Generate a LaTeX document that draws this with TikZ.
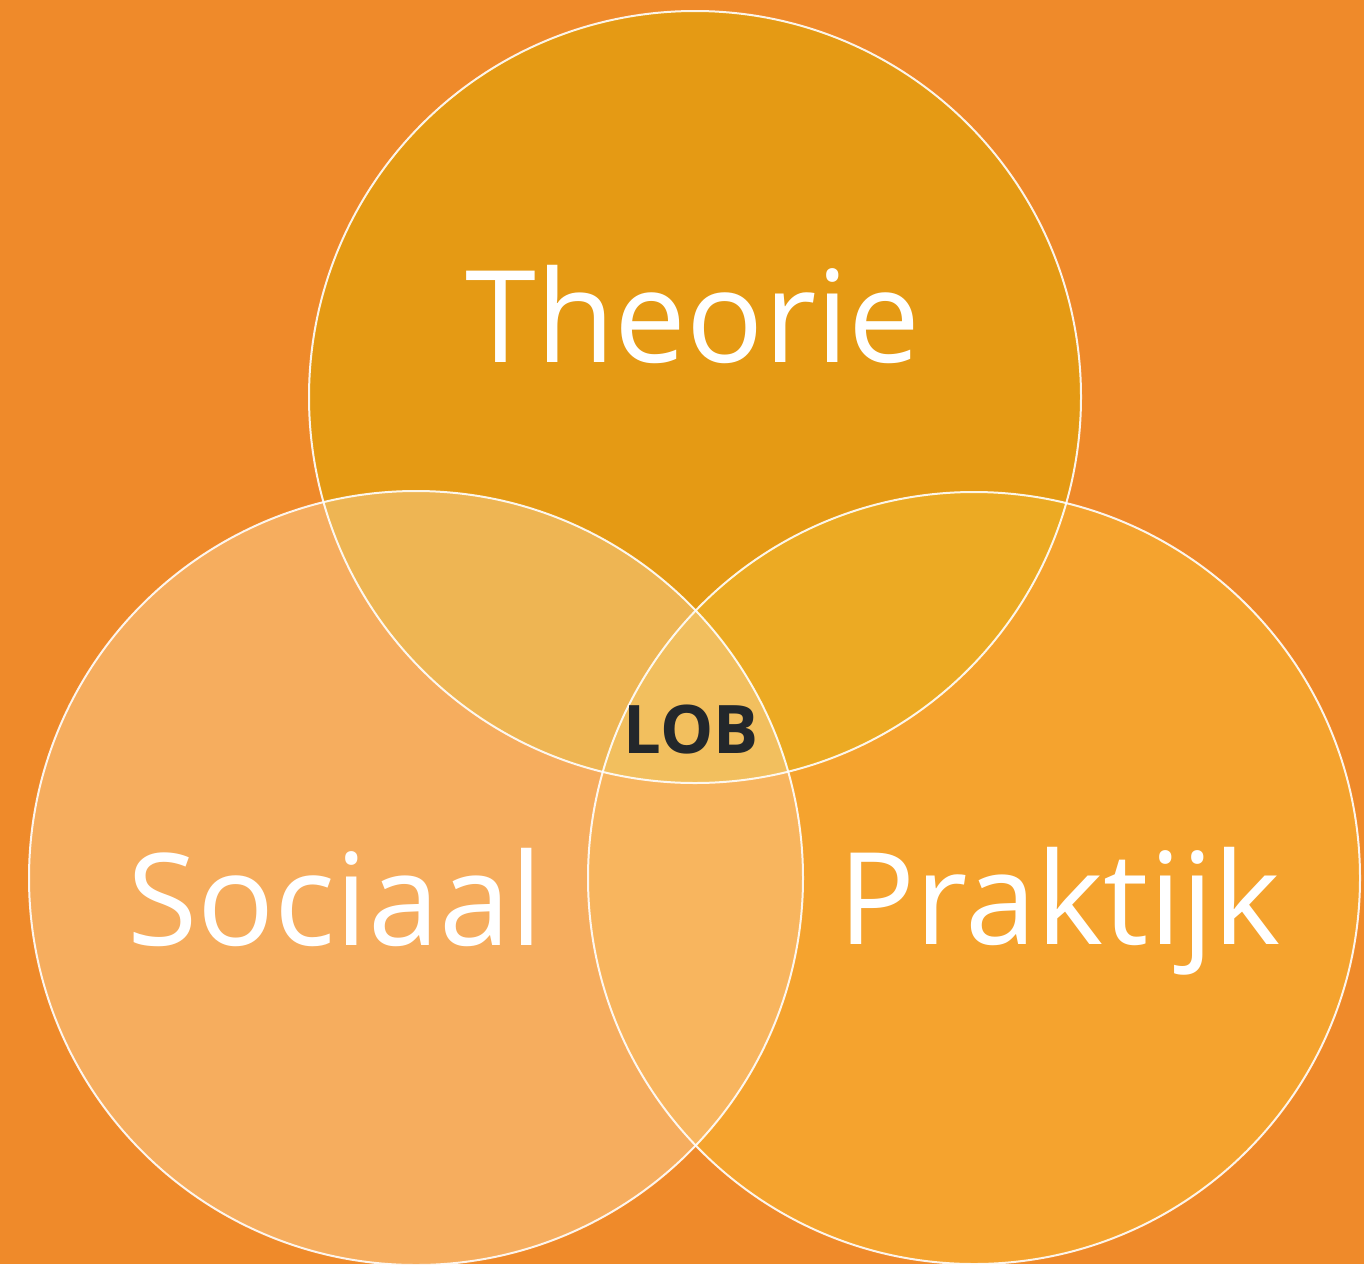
\documentclass[tikz,border=0pt]{standalone}
\usepackage{fontspec}
\setmainfont{Open Sans}
\definecolor{bg}{HTML}{EF8A2A}
\definecolor{cT}{HTML}{E59A14}
\definecolor{cL}{HTML}{F6AD5E}
\definecolor{cR}{HTML}{F5A32E}
\definecolor{cTL}{HTML}{EEB553}
\definecolor{cTR}{HTML}{ECAA23}
\definecolor{cLR}{HTML}{F8B55E}
\definecolor{cTLR}{HTML}{F2BF5E}
\definecolor{lobtext}{HTML}{23272B}
\tikzset{
  ring/.style={draw=white, line width=2pt, draw opacity=0.9},
  bigtext/.style={text=white, anchor=base, font=\fontsize{128}{135}\selectfont},
  lobstyle/.style={text=lobtext, anchor=base, font=\fontsize{67}{70}\selectfont\bfseries}
}
\begin{document}
\begin{tikzpicture}[x=1pt,y=-1pt]
\fill[bg] (0,0) rectangle (1364,1264);
\useasboundingbox (0,0) rectangle (1364,1264);
\coordinate (T) at (695,397);
\coordinate (L) at (416,878);
\coordinate (R) at (974,878);
\def\rT{386}\def\rL{387}\def\rR{386}
% solo fills
\fill[cT] (T) circle[radius=\rT];
\fill[cL] (L) circle[radius=\rL];
\fill[cR] (R) circle[radius=\rR];
% pairwise overlaps
\begin{scope}\clip (T) circle[radius=\rT];\fill[cTL] (L) circle[radius=\rL];\end{scope}
\begin{scope}\clip (T) circle[radius=\rT];\fill[cTR] (R) circle[radius=\rR];\end{scope}
\begin{scope}\clip (L) circle[radius=\rL];\fill[cLR] (R) circle[radius=\rR];\end{scope}
\begin{scope}\clip (T) circle[radius=\rT];\clip (L) circle[radius=\rL];\fill[cTLR] (R) circle[radius=\rR];\end{scope}
% outlines
\draw[ring] (T) circle[radius=\rT];
\draw[ring] (L) circle[radius=\rL];
\draw[ring] (R) circle[radius=\rR];
% labels
\node[bigtext] (theorie) at (693,362) {Theorie};
\node[bigtext] (sociaal) at (335,945) {Sociaal};
\node[bigtext] (praktijk) at (1060,944) {Praktijk};
\node[lobstyle] (lob) at (691,753) {LOB};
\end{tikzpicture}
\end{document}
